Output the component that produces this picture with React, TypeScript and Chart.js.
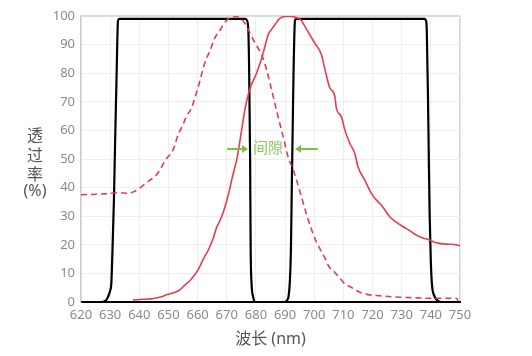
import { useEffect, useRef } from 'react';
import { Chart, registerables } from 'chart.js';

Chart.register(...registerables);

// Filter A (black, left band)
const filterAX = [620, 627, 628.5, 629.3, 630, 630.4, 630.8, 631.3, 631.6, 632.2, 632.7, 633.2, 676.4, 676.9, 677.4, 677.7, 678, 678.2, 678.5, 679, 679.7, 686];
const filterAY = [0, 0, 0.5, 1.9, 4, 6.5, 18, 36, 51, 79, 98.5, 99, 99, 98.5, 95, 79, 51, 18, 6.5, 2, 0, 0];
// Filter B (black, right band)
const filterBX = [684, 690, 690.6, 691.2, 691.6, 692, 692.3, 692.6, 692.9, 693.4, 694, 737.8, 738.3, 738.6, 739, 739.3, 739.6, 740, 740.4, 741.3, 742.3, 743.5, 746];
const filterBY = [0, 0, 0.5, 2, 6.5, 18, 40, 60, 80, 98.5, 99, 99, 98.5, 95, 73, 50, 30, 14, 6, 1.9, 0.5, 0, 0];
// Emission (dashed red)
const dashedX = [620, 628, 633, 636, 638, 641, 643.5, 645.5, 647, 649, 651.5, 653.3, 655, 656.1, 658, 659, 660.7, 662, 663, 664.5, 665.5, 667.7, 669.5, 671, 673, 674.5, 676.2, 678, 679.7, 682, 683.7, 685.4, 687.6, 689.9, 691.1, 692.8, 695, 697.4, 700.2, 702, 703.6, 705.3, 706.3, 708.8, 710.8, 712.2, 714.5, 716.7, 719, 722.5, 727, 733.9, 740, 748.7, 749.4];
const dashedY = [37.5, 37.8, 38.2, 38.0, 38.5, 40.5, 42.5, 44, 46, 49.7, 53, 58.4, 62, 64.8, 68, 71.2, 77, 82, 85, 88.5, 91.5, 95.1, 98, 99.3, 99.8, 99.3, 97.4, 94, 90.5, 86.4, 81.1, 74.1, 64.8, 55.5, 50.5, 46.2, 39, 30.5, 22.3, 18.5, 15.5, 12, 11.2, 8.3, 6, 5.4, 4, 3, 2.5, 2.2, 1.8, 1.5, 1.3, 1.3, 0.4];
// Emission (solid red)
const solidX = [637.8, 640, 645, 647.5, 649.5, 652, 654, 655.6, 657.4, 659, 660.2, 661.5, 662.5, 663.6, 665.4, 666.5, 667.7, 669, 670, 671.1, 671.7, 672.5, 673.4, 674, 675.1, 676.2, 677, 678, 680.2, 682, 683, 684.2, 685.5, 686.5, 688.2, 690, 692, 694.5, 695.5, 696.2, 698.5, 700.2, 702.5, 703.6, 705.3, 707.1, 707.6, 709.3, 710.5, 712.2, 713.9, 715, 717.3, 719.6, 721, 723, 725.9, 728, 730.5, 733, 735, 737, 739.6, 741, 743, 746, 748, 750];
const solidY = [0.7, 0.9, 1.2, 1.8, 2.6, 3.3, 4.3, 5.9, 7.5, 9.5, 11.3, 14, 16, 18, 22.4, 26, 28.5, 32, 35.5, 39.9, 42.7, 46, 49.7, 53.1, 60.1, 67.1, 71, 74.7, 80, 85.2, 89, 93.4, 95.5, 96.9, 99.2, 99.8, 99.8, 99.2, 98.5, 97.4, 93.4, 90.5, 86.4, 81.7, 75, 71.8, 67.7, 64.8, 60.1, 55.5, 52, 47.3, 42.7, 38, 36, 33.9, 29.8, 28, 26.3, 24.8, 23.4, 22.5, 21.7, 21, 20.5, 20.2, 20.1, 19.7];

const yTitleLines = ['透', '过', '率', '(%)'];
const xTitle = '波长 (nm)';
const gapLabel = '间隙';
// gap annotation in data units
const gapArrowLeft = [670.1, 677.3];
const gapArrowRight = [701.2, 693.4];
const gapLabelX = 684.1;
const gapY = 53.5;

const pts = (xs: number[], ys: number[]) => xs.map((x, i) => ({ x, y: ys[i] }));

const FONT = "'Noto Sans', 'Noto Sans CJK SC', sans-serif";
const RED = '#ea3a4f';
const GREEN = '#7cbf45';

const overlay = {
  id: 'overlay',
  afterDraw(chart: any) {
    const ctx = chart.ctx;
    const xs = chart.scales.x;
    const ys = chart.scales.y;
    ctx.save();
    // y title stacked
    ctx.fillStyle = '#555';
    ctx.font = `16px ${FONT}`;
    ctx.textAlign = 'center';
    ctx.textBaseline = 'middle';
    const yPos = [136, 156, 175, 191];
    yTitleLines.forEach((t, i) => ctx.fillText(t, 35, yPos[i]));
    // gap annotation
    const py = ys.getPixelForValue(gapY);
    const arrow = (fromV: number, toV: number) => {
      const x1 = xs.getPixelForValue(fromV);
      const x2 = xs.getPixelForValue(toV);
      const dir = Math.sign(x2 - x1);
      ctx.strokeStyle = GREEN;
      ctx.fillStyle = GREEN;
      ctx.lineWidth = 2;
      ctx.beginPath();
      ctx.moveTo(x1, py);
      ctx.lineTo(x2 - dir * 4, py);
      ctx.stroke();
      ctx.beginPath();
      ctx.moveTo(x2, py);
      ctx.lineTo(x2 - dir * 6, py - 4);
      ctx.lineTo(x2 - dir * 6, py + 4);
      ctx.closePath();
      ctx.fill();
    };
    arrow(gapArrowLeft[0], gapArrowLeft[1]);
    arrow(gapArrowRight[0], gapArrowRight[1]);
    ctx.fillStyle = '#8dc763';
    ctx.font = `15px ${FONT}`;
    ctx.fillText(gapLabel, xs.getPixelForValue(gapLabelX), py);
    ctx.restore();
  },
};

export default function App() {
  const ref = useRef<HTMLCanvasElement>(null);
  useEffect(() => {
    if (!ref.current) return;
    const common = { showLine: true, pointRadius: 0, cubicInterpolationMode: 'monotone' as const };
    const chart = new Chart(ref.current, {
      type: 'scatter',
      data: {
        datasets: [
          { ...common, data: pts(dashedX, dashedY), borderColor: RED, borderWidth: 1.6, borderDash: [6, 4] },
          { ...common, data: pts(solidX, solidY), borderColor: RED, borderWidth: 1.6 },
          { ...common, data: pts(filterAX, filterAY), borderColor: '#000', borderWidth: 2.2 },
          { ...common, data: pts(filterBX, filterBY), borderColor: '#000', borderWidth: 2.2 },
        ],
      },
      options: {
        responsive: false,
        animation: false,
        layout: { padding: { left: 0, right: 72, top: 16, bottom: 0 } },
        plugins: { legend: { display: false }, tooltip: { enabled: false } },
        scales: {
          x: {
            type: 'linear',
            min: 620,
            max: 750,
            ticks: { stepSize: 10, color: '#8a8a8a', padding: 5, font: { size: 13, family: FONT } },
            grid: { color: (c: any) => (c.index === 13 ? '#d4d4d4' : '#eeeeee'), lineWidth: (c: any) => (c.index === 13 ? 1.5 : 1), drawTicks: false },
            border: { color: '#000', width: 2 },
            title: { display: true, text: xTitle, color: '#555', font: { size: 16, family: FONT }, padding: { top: 0, bottom: 7 } },
            afterFit: (s: any) => { s.height = 54; },
          },
          y: {
            min: 0,
            max: 100,
            ticks: { stepSize: 10, color: '#8a8a8a', padding: 6, font: { size: 13, family: FONT } },
            grid: { color: (c: any) => (c.index === 10 ? '#dcdcdc' : '#eeeeee'), lineWidth: (c: any) => (c.index === 10 ? 2 : 1), drawTicks: false },
            border: { color: '#cccccc', width: 1.5 },
            afterFit: (s: any) => { s.width = 81; },
          },
        },
      },
      plugins: [overlay],
    });
    return () => chart.destroy();
  }, []);
  return (
    <canvas
      ref={ref}
      width={532}
      height={356}
      style={{ position: 'absolute', left: 0, top: 0, width: 532, height: 356 }}
    />
  );
}
